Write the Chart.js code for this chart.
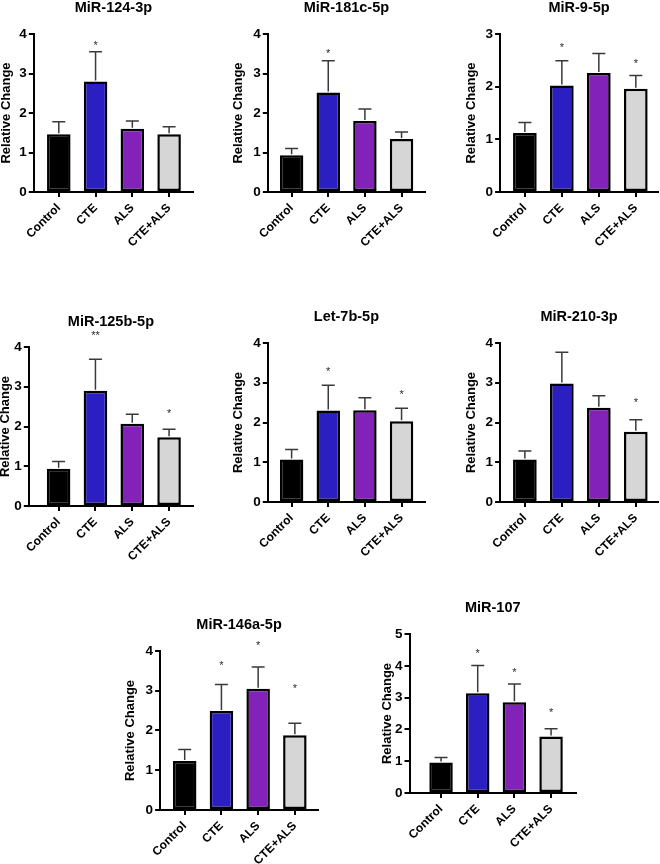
<!DOCTYPE html>
<html>
<head>
<meta charset="utf-8">
<script src="https://cdn.jsdelivr.net/npm/chart.js@4.4.1/dist/chart.umd.min.js"></script>
<style>
  body { margin: 0; background: #fff; width: 660px; height: 864px; position: relative; overflow: hidden; }
  canvas { position: absolute; }
</style>
</head>
<body>
<script>
// data (mean and one-sided error per group)
const groups = ['Control', 'CTE', 'ALS', 'CTE+ALS'];
const titles = ['MiR-124-3p', 'MiR-181c-5p', 'MiR-9-5p', 'MiR-125b-5p', 'Let-7b-5p', 'MiR-210-3p', 'MiR-146a-5p', 'MiR-107'];
const means = [
  [1.46, 2.80, 1.60, 1.46],
  [0.93, 2.52, 1.80, 1.34],
  [1.12, 2.02, 2.26, 1.96],
  [0.94, 2.90, 2.07, 1.73],
  [1.07, 2.30, 2.31, 2.03],
  [1.07, 2.98, 2.37, 1.77],
  [1.23, 2.49, 3.05, 1.88],
  [0.96, 3.14, 2.85, 1.78]
];
const errs = [
  [0.32, 0.75, 0.20, 0.19],
  [0.17, 0.80, 0.30, 0.18],
  [0.20, 0.47, 0.37, 0.25],
  [0.18, 0.79, 0.24, 0.20],
  [0.25, 0.64, 0.31, 0.33],
  [0.21, 0.79, 0.30, 0.30],
  [0.29, 0.67, 0.55, 0.30],
  [0.16, 0.87, 0.58, 0.24]
];
const stars = [
  ['', '*', '', ''],
  ['', '*', '', ''],
  ['', '*', '', '*'],
  ['', '**', '', '*'],
  ['', '*', '', '*'],
  ['', '', '', '*'],
  ['', '*', '*', '*'],
  ['', '*', '*', '*']
];
const starAt = [
  [0, 3.76, 0, 0],
  [0, 3.58, 0, 0],
  [0, 2.79, 0, 2.48],
  [0, 4.35, 0, 2.38],
  [0, 3.35, 0, 2.77],
  [0, 0, 0, 2.57],
  [0, 3.71, 4.19, 3.12],
  [0, 4.48, 3.88, 2.62]
];
const yMax = [4, 4, 3, 4, 4, 4, 4, 5];
const barColors = ['#000000', '#2b1fc2', '#8322b8', '#d6d6d6'];

// where each panel sits: plot left, top, right, bottom, title y, y-title x, x range
const panels = [
  [34, 34, 193, 192, 8, 7, -0.68, 3.65],
  [268, 34, 425, 192, 8, 239, -0.65, 3.64],
  [500, 34, 658, 192, 8, 471.7, -0.67, 3.60],
  [29, 347, 193, 506, 322, 6, -0.81, 3.65],
  [268, 343, 425, 502, 317, 239, -0.65, 3.64],
  [500, 343, 658, 502, 317, 471.7, -0.67, 3.60],
  [160, 651, 318, 810, 625, 130.7, -0.67, 3.63],
  [409, 634, 575, 793, 608, 387.3, -0.86, 3.68]
];

const FONT = '"Liberation Sans", Arial, Helvetica, sans-serif';
Chart.defaults.font.family = FONT;

const errorBars = {
  id: 'errorBars',
  afterDatasetsDraw(chart, args, opts) {
    const k = opts.k;
    const ctx = chart.ctx;
    const y = chart.scales.y;
    const meta = chart.getDatasetMeta(0);
    ctx.save();
    meta.data.forEach((bar, i) => {
      const base = y.getPixelForValue(means[k][i]);
      const top = y.getPixelForValue(means[k][i] + errs[k][i]);
      ctx.strokeStyle = '#3a3a3a';
      ctx.lineWidth = 1.5;
      ctx.beginPath();
      ctx.moveTo(bar.x, base - 1);
      ctx.lineTo(bar.x, top);
      ctx.moveTo(bar.x - 6.5, top);
      ctx.lineTo(bar.x + 6.5, top);
      ctx.stroke();
      if (stars[k][i]) {
        ctx.fillStyle = '#2a2a2a';
        ctx.font = '11px ' + FONT;
        ctx.textAlign = 'center';
        ctx.textBaseline = 'alphabetic';
        ctx.fillText(stars[k][i], bar.x, y.getPixelForValue(starAt[k][i]) + 6);
      }
    });
    ctx.restore();
  }
};

panels.forEach((p, k) => {
  const [aL, aT, aR, aB, tY, yTitleX, xMin, xMax] = p;
  const cL = yTitleX - 7.8, cT = tY - 10, padR = 3, xH = 62;
  const yW = aL - cL;
  const w = Math.round(aR + padR - cL), h = Math.round(aB + xH - cT);

  const cv = document.createElement('canvas');
  cv.width = w; cv.height = h;
  cv.style.left = cL + 'px'; cv.style.top = cT + 'px';
  cv.style.width = w + 'px'; cv.style.height = h + 'px';
  document.body.appendChild(cv);

  new Chart(cv, {
    type: 'bar',
    data: {
      datasets: [{
        data: means[k].map((v, i) => ({ x: i, y: v })),
        backgroundColor: barColors,
        borderColor: '#000',
        borderWidth: 2.5,
        borderSkipped: false,
        categoryPercentage: 0.64,
        barPercentage: 1
      }]
    },
    options: {
      responsive: false,
      animation: false,
      layout: { padding: { left: 0, top: 0, right: padR, bottom: 0 } },
      plugins: {
        legend: { display: false },
        tooltip: { enabled: false },
        title: {
          display: true,
          text: titles[k],
          fullSize: false,
          color: '#000',
          font: { size: 14.5, weight: 'bold' },
          padding: { top: tY - 8.7 - cT, bottom: aT - tY - 8.7 }
        },
        errorBars: { k: k }
      },
      scales: {
        x: {
          type: 'linear',
          min: xMin,
          max: xMax,
          offset: false,
          afterBuildTicks: s => { s.ticks = groups.map((g, i) => ({ value: i })); },
          afterFit: s => { s.height = xH; },
          ticks: {
            autoSkip: false,
            minRotation: 45,
            maxRotation: 45,
            padding: 4,
            color: '#000',
            font: { size: 12, weight: 'bold' },
            callback: v => groups[v]
          },
          grid: { drawOnChartArea: false, offset: false, color: '#000', lineWidth: 2, tickLength: 5 },
          border: { color: '#000', width: 2 }
        },
        y: {
          min: 0,
          max: yMax[k],
          afterFit: s => { s.width = yW; },
          ticks: { stepSize: 1, padding: 2, color: '#000', font: { size: 13.5, weight: 'bold' } },
          grid: { drawOnChartArea: false, color: '#000', lineWidth: 2, tickLength: 5 },
          border: { color: '#000', width: 2 },
          title: {
            display: true,
            text: 'Relative Change',
            color: '#000',
            padding: 0,
            font: { size: 13, weight: 'bold' }
          }
        }
      }
    },
    plugins: [errorBars]
  });
});
</script>
</body>
</html>
